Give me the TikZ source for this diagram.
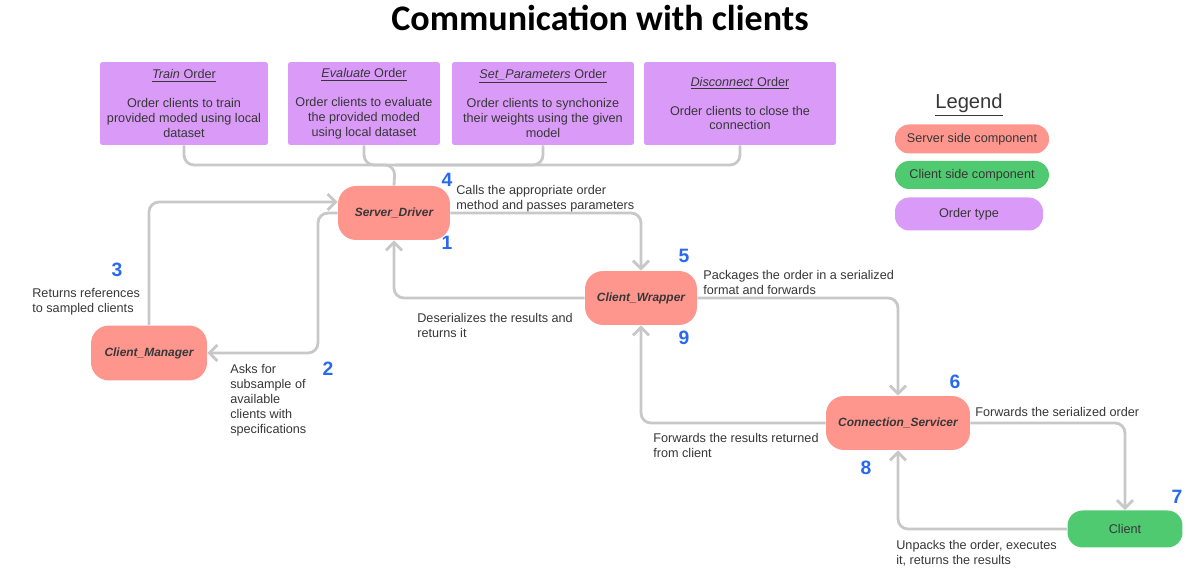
\documentclass[tikz,border=0pt]{standalone}
\usepackage{fontspec}
\setmainfont{Liberation Sans}
\newfontfamily\headfont{Carlito}
\usepackage{xcolor}
\usetikzlibrary{positioning,arrows.meta}

\definecolor{srvfill}{RGB}{255,150,142}
\definecolor{clifill}{RGB}{80,202,112}
\definecolor{ordfill}{RGB}{217,155,247}
\definecolor{stepblue}{RGB}{40,105,240}
\definecolor{linegray}{RGB}{200,200,200}
\definecolor{txtgray}{RGB}{55,55,55}

\begin{document}
\begin{tikzpicture}[
  x=0.02cm, y=-0.02cm,
  font=\fontsize{7.2}{8.5}\selectfont, text=txtgray,
  comp/.style={fill=srvfill, rounded corners=3.6mm, minimum width=2.24cm,
               minimum height=1.08cm, inner sep=1pt,
               font=\fontsize{6.8}{8.5}\selectfont\bfseries\itshape},
  ord/.style={fill=ordfill, rounded corners=0.5mm, minimum height=1.66cm,
              align=center, inner sep=1pt},
  leg/.style={rounded corners=2.8mm, minimum width=3.08cm, minimum height=0.58cm},
  num/.style={text=stepblue, font=\fontsize{11}{11}\selectfont\bfseries, inner sep=0pt},
  note/.style={align=left, anchor=north west, inner sep=0pt},
  flow/.style={draw=linegray, line width=1.6pt, rounded corners=2mm},
  >={Straight Barb[length=1.6mm,width=3.2mm]}
]
\useasboundingbox (0,0) rectangle (1198,580);

\node[font=\headfont\fontsize{20.5}{21}\selectfont\bfseries, text=black] (title) at (600,18)
  {Communication with clients};

% order types
\node[ord, minimum width=3.36cm] (train) at (184,103.5)
  {\underline{\textit{Train} Order}\\[8pt]Order clients to train\\provided moded using local\\dataset};
\node[ord, minimum width=3.04cm] (eval) at (364,103.5)
  {\underline{\textit{Evaluate} Order}\\[8pt]Order clients to evaluate\\the provided moded\\using local dataset};
\node[ord, minimum width=3.64cm] (setp) at (543,103.5)
  {\underline{\textit{Set\_Parameters} Order}\\[8pt]Order clients to synchonize\\their weights using the given\\model};
\node[ord, minimum width=3.84cm] (disc) at (740,103.5)
  {\underline{\textit{Disconnect} Order}\\[8pt]Order clients to close the\\connection};

% components
\node[comp] (sd) at (394,213) {Server\_Driver};
\node[comp] (cw) at (641,298) {Client\_Wrapper};
\node[comp, minimum width=2.32cm, minimum height=1.1cm] (cm) at (149,353) {Client\_Manager};
\node[comp, minimum width=2.88cm] (cs) at (898,423) {Connection\_Servicer};
\node[comp, fill=clifill, minimum width=2.3cm, minimum height=0.74cm, rounded corners=3mm,
      font=\fontsize{7.2}{8.5}\selectfont] (client) at (1125,529) {Client};

\coordinate (merge) at (395,165);
\coordinate (via) at (318,353);

% legend
\node[font=\fontsize{11.5}{12}\selectfont] (legtitle) at (969,105) {\underline{Legend}};
\node[leg, fill=srvfill] (legsrv) at (972,139) {Server side component};
\node[leg, fill=clifill, minimum height=0.56cm] (legcli) at (972,175) {Client side component};
\node[leg, fill=ordfill, minimum width=2.96cm, minimum height=0.66cm] (legord) at (969,214) {Order type};

% step numbers
\node[num] (n1) at (447,243) {1};
\node[num] (n2) at (328,369) {2};
\node[num] (n3) at (117,270) {3};
\node[num] (n4) at (447,180) {4};
\node[num] (n5) at (684,256) {5};
\node[num] (n6) at (955,382) {6};
\node[num] (n7) at (1177,497) {7};
\node[num] (n8) at (866,468) {8};
\node[num] (n9) at (684,338) {9};

% notes
\node[note] (callsnote) at (456,185) {Calls the appropriate order\\method and passes parameters};
\node[note] (packnote) at (703,270) {Packages the order in a serialized\\format and forwards};
\node[note] (desernote) at (417,313) {Deserializes the results and\\returns it};
\node[note] (asknote) at (230,364) {Asks for\\subsample of\\available\\clients with\\specifications};
\node[note] (retnote) at (32,288) {Returns references\\to sampled clients};
\node[note] (fwdnote) at (975,407) {Forwards the serialized order};
\node[note] (resnote) at (653,433) {Forwards the results returned\\from client};
\node[note] (unpnote) at (896,540) {Unpacks the order, executes\\it, returns the results};

% order tree
\draw[flow] (train.south) |- (merge) -- (sd.north);
\draw[flow] (eval.south) |- (merge);
\draw[flow] (setp.south) |- (merge);
\draw[flow] (disc.south) |- (merge);

% flow
\draw[flow,->] (sd.west) -| (via) -- (cm.east);
\draw[flow,->] (cm.north) |- ([yshift=0.22cm]sd.west);
\draw[flow,->] (sd.east) -| (cw.north);
\draw[flow,->] (cw.east) -| (cs.north);
\draw[flow,->] (cs.east) -| (client.north);
\draw[flow,->] (client.west) -| (cs.south);
\draw[flow,->] (cs.west) -| (cw.south);
\draw[flow,->] (cw.west) -| (sd.south);
\end{tikzpicture}
\end{document}
